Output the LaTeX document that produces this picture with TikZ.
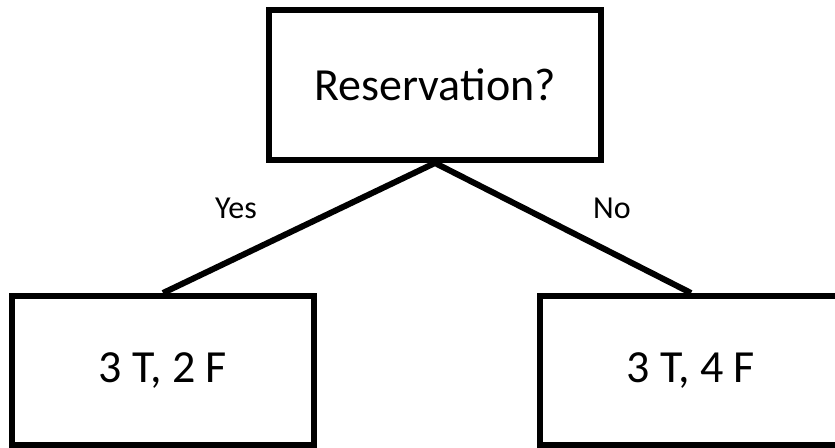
\documentclass[tikz,border=0pt]{standalone}
\usepackage{fontspec}
\setmainfont{Carlito}
\usepackage{tikz}

\begin{document}
\begin{tikzpicture}[x=0.75pt,y=0.75pt,yscale=-1,xscale=1,
        box/.style={draw, line width=4.5pt, fill=white, inner sep=0pt, font=\fontsize{34.5}{40}\selectfont},
        lbl/.style={inner sep=0.75pt, font=\fontsize{24}{28}\selectfont},
        branch/.style={line width=4.5pt}]
        \useasboundingbox (0,0) rectangle (835,447);

        %Shape: Rectangle [id:reservation]
        \node [box, minimum width=249pt, minimum height=112.5pt] (res) at (435,85) {Reservation?};
        %Shape: Rectangle [id:yesleaf]
        \node [box, minimum width=226.5pt, minimum height=111.75pt] (yesleaf) at (163,370.5) {\raisebox{-6pt}{3 T, 2 F}};
        %Shape: Rectangle [id:noleaf]
        \node [box, minimum width=226.5pt, minimum height=111.75pt] (noleaf) at (691,370.5) {\raisebox{-6pt}{3 T, 4 F}};

        %Straight Lines
        \draw [branch] (res.south) -- (yesleaf.north) ;
        \draw [branch] (res.south) -- (noleaf.north) ;

        % Text Node
        \node [lbl] (yes) at (236,208) {Yes};
        % Text Node
        \node [lbl] (no) at (612,208) {No};

\end{tikzpicture}
\end{document}
